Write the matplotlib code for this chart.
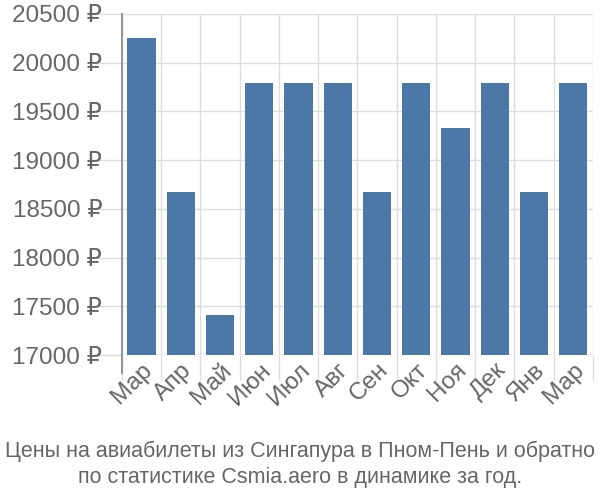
import matplotlib
matplotlib.use("Agg")
import matplotlib.pyplot as plt
import numpy as np

months = ["Мар", "Апр", "Май", "Июн", "Июл", "Авг", "Сен", "Окт", "Ноя", "Дек", "Янв", "Мар"]
prices = [20256, 18676, 17410, 19796, 19796, 19796, 18676, 19796, 19330, 19796, 18676, 19796]
yticks = [17000, 17500, 18000, 18500, 19000, 19500, 20000, 20500]
title = "Цены на авиабилеты из Сингапура в Пном-Пень и обратно\nпо статистике Csmia.aero в динамике за год."

plt.rcParams['font.family'] = ['Liberation Sans', 'DejaVu Sans']
fig = plt.figure(figsize=(6, 5), dpi=100)
ax = fig.add_axes([0.203, 0.29, 0.785, 0.682])

x = np.arange(len(months))
ax.bar(x, prices, width=0.72, color="#4c78a8", zorder=3)
ax.set_xlim(-0.5, len(months) - 0.5)
ax.set_ylim(17000, 20500)

ax.set_yticks(yticks)
ax.set_yticklabels([f"{v} ₽" for v in yticks], fontsize=17.5, color="#666666")
ax.tick_params(axis='y', length=20, color="#dddddd", width=1, pad=-6)

ax.set_xticks(np.arange(-0.5, len(months), 1.0))
ax.set_xticklabels([])
ax.tick_params(axis='x', which='major', length=18, color="#dddddd", width=1)
ax.set_xticks(x, minor=True)
ax.set_xticklabels(months, minor=True, rotation=45, ha='right', va='top',
                   rotation_mode='anchor', fontsize=17.5, color="#666666")
ax.tick_params(axis='x', which='minor', length=0, pad=3)

ax.grid(True, which='major', color="#dddddd", linewidth=1, zorder=0)
for s in ['top', 'right', 'bottom']:
    ax.spines[s].set_visible(False)
ax.spines['left'].set_color("#999999")
ax.spines['left'].set_linewidth(1.5)
ax.spines['left'].set_bounds(17000 - 3500 * 18 / 341, 20500)
ax.spines['left'].set_zorder(4)

fig.text(0.5, 0.025, title, ha='center', va='bottom', fontsize=15.5, color="#666666", linespacing=1.3)
fig.savefig("out.png", dpi=100)
